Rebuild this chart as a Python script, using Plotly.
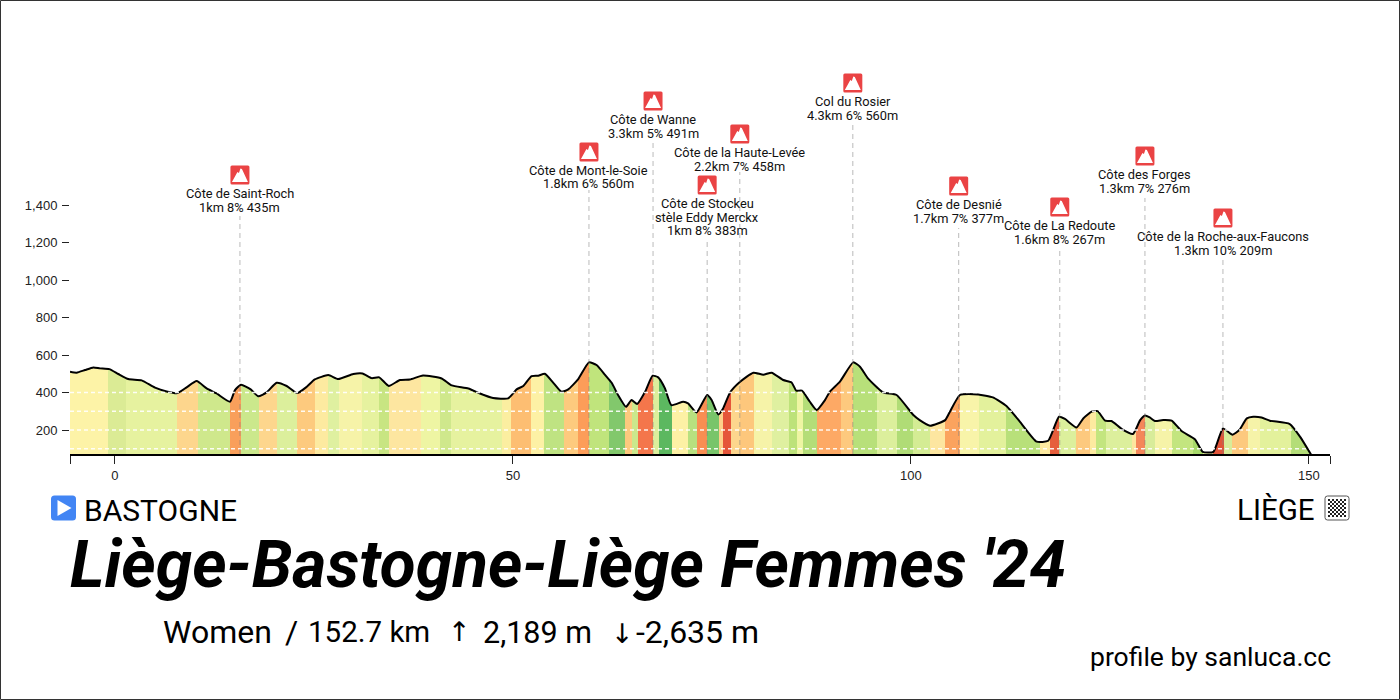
import plotly.graph_objects as go

# ---------- data ----------
km = [-5.65,-4.82,-3.77,-2.72,-1.88,-0.71,0.42,1.68,3.35,5.03,6.49,7.83,9.0,10.26,11.52,12.77,14.45,15.08,15.83,17.05,18.0,19.05,20.31,21.57,22.9,24.1,25.1,26.8,28.05,29.94,31.1,32.25,33.2,34.4,35.8,37.06,38.7,41.04,42.3,44.4,45.85,47.5,49.4,50.46,51.3,52.34,53.18,54.0,55.07,56.1,56.95,58.2,59.55,60.5,61.6,62.4,63.2,64.2,64.9,65.6,66.6,67.55,68.25,69.1,69.9,71.4,72.0,73.07,74.4,74.96,75.8,76.4,77.26,78.5,80.2,81.45,82.5,83.96,85.0,85.6,86.3,87.3,88.15,89.2,89.8,91.08,92.75,93.6,94.6,96.5,98.2,100.3,101.1,102.4,104.3,104.9,106.16,108.45,110.3,112.0,113.7,115.8,117.25,118.6,119.35,120.8,121.65,122.7,123.45,124.4,125.2,126.5,127.9,128.8,129.4,130.0,130.65,131.7,132.75,134.0,135.7,136.65,138.0,139.2,140.4,141.25,142.2,143.0,144.05,145.1,147.6,148.9,150.3]
elev = [511,506,520,534,529,525,499,472,465,426,406,397,428,461,422,395,351,413,442,417,380,401,452,435,397,431,470,493,472,499,502,477,481,435,467,470,491,475,438,422,395,371,369,417,435,488,490,500,452,404,417,472,561,547,493,452,387,324,360,339,404,490,481,422,333,351,342,294,387,360,283,315,399,456,506,495,506,467,454,410,410,351,307,360,404,458,561,538,476,401,387,280,253,223,253,298,387,390,374,328,244,138,143,271,259,214,262,298,301,250,248,205,179,253,278,267,248,253,250,195,150,84,84,209,175,200,262,271,267,250,232,164,67]

band_edges = [-5.65,-0.84,1.34,7.83,10.43,14.45,15.83,18.13,20.4,22.9,25.1,26.8,28.2,31.0,33.2,34.4,38.5,40.8,42.2,48.6,49.75,52.26,53.9,56.4,58.2,59.55,62.06,64.07,64.9,65.7,67.55,68.34,69.97,72.0,73.1,74.4,75.87,76.4,77.4,78.5,80.3,82.5,84.7,85.7,86.4,88.2,91.2,92.75,95.8,98.2,100.3,102.4,104.3,106.16,108.5,112.0,116.2,117.5,118.6,120.8,122.5,123.3,124.5,127.8,128.3,129.4,130.65,132.8,135.4,136.7,138.0,139.3,140.4,142.3,143.8,147.7,150.3,152.65]
band_colors = ["#fdf3a7","#dbeb95","#e6f29f","#fdd68d","#cfe88c","#f99f5b","#cbe88c","#fdd68d","#dcef9c","#fdca7e","#fdeaa0","#dff0a0","#f6f3a8","#e6f29f","#c8e582","#fde6a0","#eef5a3","#cfe88c","#e6f29f","#fbeea0","#fdbe72","#fdf1a5","#bfe382","#fdca7e","#fc9d59","#c0e47c","#82c86c","#fdc97e","#cbe88c","#f4764b","#dcef9c","#5cb860","#fdf1a5","#b8e07f","#f98e52","#78c56a","#fdd08a","#e5553a","#fdd68d","#fdc77c","#f6f3a8","#dff0a0","#bde27a","#eef5a3","#b4dd78","#fda965","#fdc97e","#b8e07a","#dcef9c","#b0dc76","#d4ec94","#fde6a0","#fba35e","#f8f4a9","#e3f19c","#b8e07a","#fdeaa0","#e65e3c","#dcef9c","#fdc97e","#fdeaa0","#c3e57f","#dcef9c","#fde6a0","#f4875a","#d8ec9a","#f6f3a8","#c3e57f","#a7d96a","#e6f29f","#e0553a","#d8ec9a","#fdc97e","#f6f3a8","#e3f19c","#b4dd78","#ffffff"]

climb_lines = [["Côte de Saint-Roch","1km 8% 435m"],["Côte de Mont-le-Soie","1.8km 6% 560m"],["Côte de Wanne","3.3km 5% 491m"],["Côte de Stockeu","stèle Eddy Merckx","1km 8% 383m"],["Côte de la Haute-Levée","2.2km 7% 458m"],["Col du Rosier","4.3km 6% 560m"],["Côte de Desnié","1.7km 7% 377m"],["Côte de La Redoute","1.6km 8% 267m"],["Côte des Forges","1.3km 7% 276m"],["Côte de la Roche-aux-Faucons","1.3km 10% 209m"]]
climb_km = [15.7,59.55,67.6,74.4,78.5,92.7,106.0,118.7,129.4,139.2]

y_ticks = [200,400,600,800,1000,1200,1400]
y_tick_labels = ["200","400","600","800","1,000","1,200","1,400"]
x_ticks = [-5.65,0,50,100,150,152.65]
x_tick_labels = ["","0","50","100","150",""]
grid_levels = [100,200,300,400]

# ---------- layout helpers ----------
ML, MT, PW, PH = 70, 50, 1260, 404
XMIN, XMAX = -5.65, 152.65
YMIN, YMAX = 72.3, 2227
FONT = "Roboto"
px = lambda p: (p - ML) / PW
py = lambda p: (MT + PH - p) / PH
icon_center_y = [175,152,101,185,134,83,186,207,156,218]
leader_top_y = [216,190,140,241,172,122,228,248,198,258]

stops = []
span = XMAX - XMIN
for i, c in enumerate(band_colors[:-1]):
    stops.append([(band_edges[i]-XMIN)/span, c])
    stops.append([(band_edges[i+1]-XMIN)/span, c])
stops[-1][0] = 1.0

fig = go.Figure()
fig.add_trace(go.Scatter(
    x=km, y=elev, mode="lines", fill="tozeroy",
    line=dict(color="#000000", width=2, shape="spline", smoothing=0.5),
    fillgradient=dict(type="horizontal", colorscale=stops, start=XMIN, stop=XMAX),
    hoverinfo="skip", showlegend=False,
))

shapes = []
annots = []
for g in grid_levels:
    shapes.append(dict(type="line", xref="paper", yref="y", x0=0, x1=1, y0=g, y1=g, layer="above",
                       line=dict(color="rgba(255,255,255,0.9)", width=1.5, dash="4px,3px")))
shapes.append(dict(type="rect", xref="paper", yref="paper", x0=px(0.5), x1=px(1399.5), y0=py(699.5), y1=py(0.5),
                   line=dict(color="#333333", width=1), layer="below"))

ROUND = "M-8,9.5 L8,9.5 Q9.5,9.5 9.5,8 L9.5,-8 Q9.5,-9.5 8,-9.5 L-8,-9.5 Q-9.5,-9.5 -9.5,-8 L-9.5,8 Q-9.5,9.5 -8,9.5 Z"
MOUNT = "M-8,-7 L-2.5,3 L-1,2 L0.5,6.5 L2,6 L8,-7 Z"
for k, lines, iy, ty in zip(climb_km, climb_lines, icon_center_y, leader_top_y):
    shapes.append(dict(type="line", xref="x", yref="paper", x0=k, x1=k, y0=0, y1=py(ty), layer="above",
                       line=dict(color="rgba(130,130,130,0.55)", width=1, dash="5px,4px")))
    shapes.append(dict(type="path", xref="x", yref="paper", xsizemode="pixel", ysizemode="pixel",
                       xanchor=k, yanchor=py(iy), path=ROUND, fillcolor="#ea4344", line=dict(width=0), layer="above"))
    shapes.append(dict(type="path", xref="x", yref="paper", xsizemode="pixel", ysizemode="pixel",
                       xanchor=k, yanchor=py(iy), path=MOUNT, fillcolor="#ffffff", line=dict(width=0), layer="above"))
    for j, ln in enumerate(lines):
        annots.append(dict(x=k, y=py(iy + 18.5 + 13.5*j), xref="x", yref="paper", xanchor="center", yanchor="middle",
                           showarrow=False, text=ln, font=dict(family=FONT, size=12.8, color="#111111")))

def text(t, x, y, size, anchor="left", family=FONT, **f):
    annots.append(dict(x=px(x), y=py(y), xref="paper", yref="paper", xanchor=anchor, yanchor="middle", showarrow=False,
                       text=t, font=dict(family=family, size=size, color="#000000", **f)))

text("BASTOGNE", 82, 510, 30)
text("LIÈGE", 1317, 510, 29.5, anchor="right")
text("<b><i>Liège-Bastogne-Liège Femmes '24</i></b>", 68, 564, 65.7)
text("Women", 161, 632, 32)
text("/", 283, 632, 32)
text("152.7 km", 306, 632, 29.5)
text("↑", 446, 631, 27, family="DejaVu Sans")
text("2,189 m", 481, 632, 30.5)
text("↓", 609, 633, 27, family="DejaVu Sans")
text("-2,635 m", 634, 632, 32)
text("profile by sanluca.cc", 1333, 656, 26.5, anchor="right")

shapes.append(dict(type="path", xref="paper", yref="paper", xsizemode="pixel", ysizemode="pixel",
                   xanchor=px(63.5), yanchor=py(508), fillcolor="#4285f4", line=dict(width=0), layer="above",
                   path="M-9,12.5 L9,12.5 Q12.5,12.5 12.5,9 L12.5,-9 Q12.5,-12.5 9,-12.5 L-9,-12.5 Q-12.5,-12.5 -12.5,-9 L-12.5,9 Q-12.5,12.5 -9,12.5 Z"))
shapes.append(dict(type="path", xref="paper", yref="paper", xsizemode="pixel", ysizemode="pixel",
                   xanchor=px(63.5), yanchor=py(508), fillcolor="#ffffff", line=dict(width=0), layer="above",
                   path="M-6,8 L8,0 L-6,-8 Z"))
CX, CY = 1337, 508
shapes.append(dict(type="path", xref="paper", yref="paper", xsizemode="pixel", ysizemode="pixel",
                   xanchor=px(CX), yanchor=py(CY), fillcolor="#ffffff", line=dict(color="#555555", width=1), layer="above",
                   path="M-9.5,12 L9.5,12 Q12,12 12,9.5 L12,-9.5 Q12,-12 9.5,-12 L-9.5,-12 Q-12,-12 -12,-9.5 L-12,9.5 Q-12,12 -9.5,12 Z"))
segs = ""
for r in range(9):
    for c in range(9):
        if (r + c) % 2 == 0:
            x0, y0 = -9 + c*2, -9 + r*2
            segs += f"M{x0},{y0} L{x0+2},{y0} L{x0+2},{y0+2} L{x0},{y0+2} Z "
shapes.append(dict(type="path", xref="paper", yref="paper", xsizemode="pixel", ysizemode="pixel",
                   xanchor=px(CX), yanchor=py(CY), fillcolor="#222222", line=dict(width=0), layer="above", path=segs))

fig.update_layout(
    width=1400, height=700, autosize=False,
    margin=dict(l=ML, r=70, t=MT, b=700-MT-PH, pad=0),
    paper_bgcolor="#ffffff", plot_bgcolor="#ffffff",
    shapes=shapes, annotations=annots, showlegend=False,
    xaxis=dict(range=[XMIN, XMAX], tickvals=x_ticks, ticktext=x_tick_labels, ticks="outside", ticklen=8,
               tickcolor="#222222", tickwidth=1, showgrid=False, zeroline=False, showline=True,
               linecolor="#000000", linewidth=2, tickfont=dict(family="Liberation Sans", size=13, color="#222222")),
    yaxis=dict(range=[YMIN, YMAX], tickvals=y_ticks, ticktext=y_tick_labels, ticks="outside", ticklen=7,
               tickcolor="#222222", tickwidth=1, showgrid=False, zeroline=False, showline=False, ticklabelstandoff=2,
               tickfont=dict(family="Liberation Sans", size=13, color="#222222")),
)
fig.write_html("out.html", config=dict(displayModeBar=False),
               post_script="document.body.style.margin='0';document.documentElement.style.overflow='hidden';")
